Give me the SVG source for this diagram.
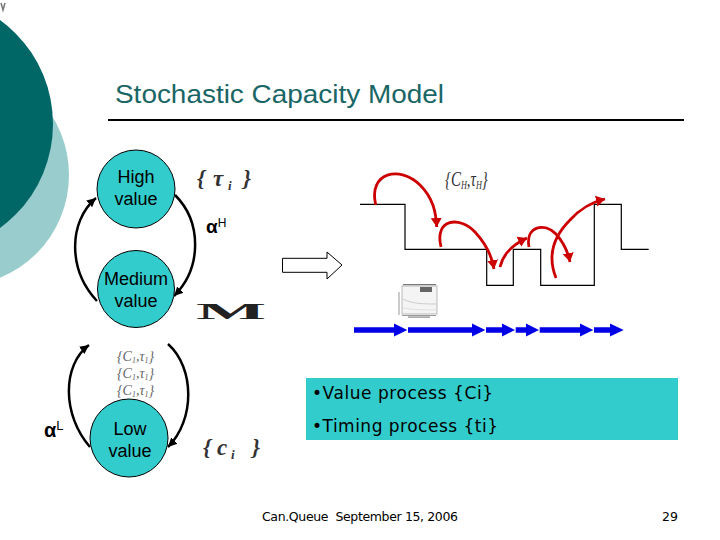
<svg xmlns="http://www.w3.org/2000/svg" width="720" height="540" viewBox="0 0 720 540">
<style>
.l{font-family:"Liberation Sans",Arial,sans-serif;fill:#000}
.n{font-size:18px;text-anchor:middle}
.m{font-family:"Liberation Serif","Times New Roman",serif;font-style:italic;fill:#333}
.c{fill:#33cccc;stroke:#000;stroke-width:1}
.b{fill:none;stroke:#000;stroke-width:2.5}
.r{fill:none;stroke:#cc0000;stroke-width:2.8}
.v{font-family:"DejaVu Sans",sans-serif;font-size:17px;fill:#000}
.s{font-family:"Liberation Serif",serif;font-style:italic;font-size:14px;fill:#666}
.f{font-family:"DejaVu Sans",sans-serif;font-size:12.5px;fill:#000}
</style>
<defs>
<marker id="ba" markerUnits="userSpaceOnUse" markerWidth="10" markerHeight="10" refX="9" refY="5" orient="auto"><path d="M0 0.5L9 5L0 9.500Z" fill="#000"/></marker>
<marker id="ra" markerUnits="userSpaceOnUse" markerWidth="11" markerHeight="12" refX="9" refY="6" orient="auto"><path d="M0 0.5L9 6L0 11.500Z" fill="#cc0000"/></marker>
</defs>
<rect width="720" height="540" fill="#fff"/>
<g id="background">
<circle cx="-42" cy="175" r="111" fill="#99cccc"/>
<circle cx="-75.500" cy="124" r="128.500" fill="#006666"/>
</g>
<text x="115" y="103" font-family="Liberation Sans,sans-serif" font-size="26.500" fill="#1a6666" textLength="329" lengthAdjust="spacingAndGlyphs">Stochastic Capacity Model</text>
<rect x="108" y="119" width="576" height="2" fill="#000"/>
<g id="connectors">
<path class="b" marker-end="url(#ba)" d="M97 301C68 270 68 222 96 198"/>
<path class="b" marker-end="url(#ba)" d="M175 195C202 222 202 268 174 296"/>
<path class="b" marker-end="url(#ba)" d="M90 447C62 415 62 365 89 345"/>
<path class="b" marker-end="url(#ba)" d="M168 344C195 368 195 420 168 447"/>
<path d="M282.500 258.300H327V252L342 265L327 279V272.300H282.500Z" fill="#fff" stroke="#000"/>
<path fill="none" stroke="#000" stroke-width="1.200" d="M360 204.300H405V249.300H486.700V285.300H513.300V249.300H540.700V285.300H594.300V204.300H621.300V249.300H648.700"/>
<path class="r" marker-end="url(#ra)" d="M375.700 205C368 172 400 165 420 185C433 198 436 212 436.700 227"/>
<path class="r" marker-end="url(#ra)" d="M441 247C434 218 460 216 475 232C486 244 492 256 494 269"/>
<path class="r" marker-end="url(#ra)" d="M500 267C503 254 514 244 527 238"/>
<path class="r" marker-end="url(#ra)" d="M529 247C525 226 545 222 556 234C564 243 568 252 570 262"/>
<path class="r" marker-end="url(#ra)" d="M556 278C548 258 552 238 570 220C580 209 592 202 605 199"/>
</g>
<g id="blue-arrows" fill="#0000e6">
<path d="M354 327.300H394V323.500L407.300 330L394 336.500V332.700H354Z"/>
<path d="M408 327.300H472V323.500L485.300 330L472 336.500V332.700H408Z"/>
<path d="M486 327.300H502V323.500L515 330L502 336.500V332.700H486Z"/>
<path d="M515.700 327.300H526V323.500L539 330L526 336.500V332.700H515.700Z"/>
<path d="M539.700 327.300H580V323.500L593.300 330L580 336.500V332.700H539.700Z"/>
<path d="M594 327.300H610V323.500L623.700 330L610 336.500V332.700H594Z"/>
</g>
<g id="high"><circle class="c" cx="136" cy="189" r="39"/><text class="l n" x="136" y="183">High</text><text class="l n" x="136" y="205">value</text></g>
<g id="medium"><circle class="c" cx="136" cy="289" r="38.500"/><text class="l n" x="136" y="285">Medium</text><text class="l n" x="136" y="307">value</text></g>
<g id="low"><circle class="c" cx="129" cy="438" r="39"/><text class="l n" x="130" y="435">Low</text><text class="l n" x="130" y="457">value</text></g>
<text x="206" y="233" font-family="Liberation Sans,sans-serif" font-size="19" font-weight="bold">α<tspan font-size="12" font-weight="normal" dy="-6">H</tspan></text>
<text x="44" y="437" font-family="Liberation Sans,sans-serif" font-size="20" font-weight="bold">α<tspan font-size="13" font-weight="normal" dy="-7">L</tspan></text>
<text class="m" y="186" font-size="23" font-weight="bold"><tspan x="197">{</tspan><tspan x="213">τ</tspan><tspan x="228" y="190" font-size="13">i</tspan><tspan x="243" y="186">}</tspan></text>
<text class="m" y="455" font-size="23" font-weight="bold"><tspan x="203">{</tspan><tspan x="217">c</tspan><tspan x="231" y="459" font-size="13">i</tspan><tspan x="252" y="455">}</tspan></text>
<text class="m" transform="translate(445 186) scale(0.68 1)" font-size="22">{C<tspan font-size="12" dy="3">H</tspan><tspan dy="-3">,τ</tspan><tspan font-size="12" dy="3">H</tspan><tspan dy="-3">}</tspan></text>
<text transform="translate(196 319) scale(3.100 1)" font-family="Liberation Serif,serif" font-size="24" font-weight="bold" fill="#222">M</text>
<text class="s" x="117" y="361">{C<tspan font-size="8" dy="2">1</tspan><tspan dy="-2">,τ</tspan><tspan font-size="8" dy="2">1</tspan><tspan dy="-2">}</tspan></text>
<text class="s" x="117" y="378">{C<tspan font-size="8" dy="2">1</tspan><tspan dy="-2">,τ</tspan><tspan font-size="8" dy="2">1</tspan><tspan dy="-2">}</tspan></text>
<text class="s" x="117" y="395">{C<tspan font-size="8" dy="2">1</tspan><tspan dy="-2">,τ</tspan><tspan font-size="8" dy="2">1</tspan><tspan dy="-2">}</tspan></text>
<g id="chart" fill="none">
<rect x="402" y="286" width="35" height="28" fill="#f4f4f4" stroke="#aaa" stroke-width="0.800"/>
<path d="M403 299C412 304 425 304 436 304" stroke="#ccc"/>
<path d="M403 308C415 310 425 310 436 310" stroke="#e0e0e0"/>
<rect x="420" y="287" width="12" height="5" fill="#666"/>
<path d="M399 292V315M402 315.500H436" stroke="#999"/>
<rect x="403" y="284" width="33" height="1.200" fill="#777"/>
<rect x="408" y="316.500" width="22" height="1.200" fill="#888"/>
</g>
<g id="box">
<rect x="306" y="378" width="372" height="62" fill="#33cccc"/>
<text class="v" x="312" y="399" textLength="181">•Value process {Ci}</text>
<text class="v" x="312" y="432" textLength="186">•Timing process {ti}</text>
</g>
<text class="f" x="262" y="521" textLength="196" xml:space="preserve">Can.Queue  September 15, 2006</text>
<text class="f" x="662" y="521">29</text>
<path d="M1 3L3 10L5 3" fill="none" stroke="#777" stroke-width="1.500"/>
</svg>
